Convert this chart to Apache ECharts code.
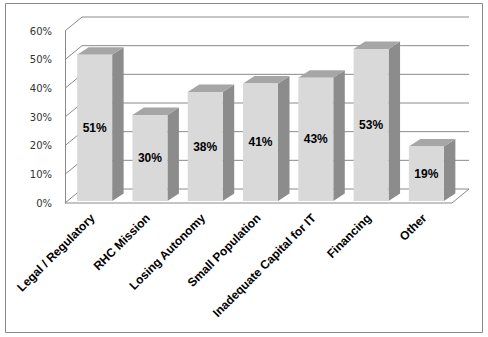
<!DOCTYPE html>
<html>
<head>
<meta charset="utf-8">
<script src="https://cdn.jsdelivr.net/npm/echarts@6/dist/echarts.min.js"></script>
<style>
  html, body { margin: 0; padding: 0; background: #ffffff; }
  #chart { width: 488px; height: 337px; }
</style>
</head>
<body>
<div id="chart"></div>
<script>
// Categories and shares (percent)
const categories = ['Legal / Regulatory', 'RHC Mission', 'Losing Autonomy', 'Small Population',
                    'Inadequate Capital for IT', 'Financing', 'Other'];
const values = [51, 30, 38, 41, 43, 53, 19];
const yTicks = [0, 10, 20, 30, 40, 50, 60];

// 3-D look: offset of the back wall and of each column's depth
const WALL_DX = 17, WALL_DY = -14;
const BAR_DX = 11.5, BAR_DY = -7.5;
const BAR_SHIFT_X = 2, BAR_SHIFT_Y = -2;
const BAR_HALF = 17.5;
const LINE = '#8a8a8a';

const chart = echarts.init(document.getElementById('chart'), null, { renderer: 'svg' });

function renderWalls(params, api) {
  const children = [];
  const x0 = params.coordSys.x;
  const x1 = params.coordSys.x + params.coordSys.width;
  yTicks.forEach(function (t) {
    const y = api.coord([0, t])[1];
    // gridline on the back wall
    children.push({ type: 'line', shape: { x1: x0 + WALL_DX, y1: y + WALL_DY, x2: x1 + WALL_DX, y2: y + WALL_DY },
      style: { stroke: LINE, lineWidth: 1 } });
    // receding line on the side wall
    children.push({ type: 'line', shape: { x1: x0, y1: y, x2: x0 + WALL_DX, y2: y + WALL_DY },
      style: { stroke: LINE, lineWidth: 1 } });
  });
  const yb = api.coord([0, 0])[1];
  // floor edges
  children.push({ type: 'line', shape: { x1: x0, y1: yb, x2: x1, y2: yb }, style: { stroke: LINE, lineWidth: 1 } });
  children.push({ type: 'line', shape: { x1: x1, y1: yb, x2: x1 + WALL_DX, y2: yb + WALL_DY }, style: { stroke: LINE, lineWidth: 1 } });
  return { type: 'group', children: children };
}

function renderBar(params, api) {
  const i = api.value(0);
  const v = api.value(1);
  const top = api.coord([i, v]);
  const base = api.coord([i, 0]);
  const cx = top[0] + BAR_SHIFT_X;
  const l = cx - BAR_HALF, r = cx + BAR_HALF;
  const yt = top[1] + BAR_SHIFT_Y, yb = base[1] + BAR_SHIFT_Y;
  return {
    type: 'group',
    children: [
      { type: 'polygon', shape: { points: [[r, yt], [r + BAR_DX, yt + BAR_DY], [r + BAR_DX, yb + BAR_DY], [r, yb]] },
        style: { fill: '#8c8c8c' } },
      { type: 'polygon', shape: { points: [[l, yt], [l + BAR_DX, yt + BAR_DY], [r + BAR_DX, yt + BAR_DY], [r, yt]] },
        style: { fill: '#a6a6a6' } },
      { type: 'rect', shape: { x: l, y: yt, width: r - l, height: yb - yt },
        style: { fill: '#d9d9d9' } },
      { type: 'text', style: { text: v + '%', x: cx, y: (yt + yb) / 2, align: 'center', verticalAlign: 'middle',
        font: 'bold 12px Arial, "Liberation Sans", sans-serif', fill: '#000000' } }
    ]
  };
}

chart.setOption({
  animation: false,
  backgroundColor: '#ffffff',
  grid: { left: 65, right: 36, top: 31, bottom: 134, containLabel: false },
  xAxis: {
    type: 'category',
    data: categories,
    axisLine: { show: false },
    axisTick: { show: false },
    axisLabel: { interval: 0, rotate: 45, margin: 13, color: '#000000',
      fontFamily: 'Arial, "Liberation Sans", sans-serif', fontWeight: 'bold', fontSize: 12 }
  },
  yAxis: {
    type: 'value',
    min: 0, max: 60, interval: 10,
    axisLine: { show: true, lineStyle: { color: LINE } },
    axisTick: { show: false },
    splitLine: { show: false },
    axisLabel: { formatter: '{value}%', margin: 13, color: '#333333',
      fontFamily: '"DejaVu Sans", Verdana, sans-serif', fontSize: 10 }
  },
  graphic: [{
    type: 'rect', shape: { x: 5.5, y: 3.5, width: 477, height: 329 },
    style: { fill: 'none', stroke: '#8a8a8a', lineWidth: 1 }, silent: true
  }],
  series: [
    { type: 'custom', renderItem: renderWalls, data: [[0, 0]], z: 1, silent: true },
    { type: 'custom', renderItem: renderBar, data: values.map(function (v, i) { return [i, v]; }), z: 2,
      encode: { x: 0, y: 1 } }
  ]
});
</script>
</body>
</html>
